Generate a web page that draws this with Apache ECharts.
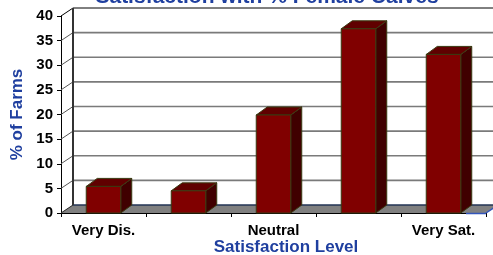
<!DOCTYPE html>
<html>
<head>
<meta charset="utf-8">
<script src="https://cdn.jsdelivr.net/npm/echarts@6/dist/echarts.min.js"></script>
<style>
html,body{margin:0;padding:0;background:#fff;}
#chart{width:493px;height:255px;}
</style>
</head>
<body>
<div id="chart"></div>
<script>
const categories = ['Very Dis.', 'Dis.', 'Neutral', 'Sat.', 'Very Sat.'];
const farmsPct = [5.4, 4.5, 19.9, 37.4, 32.2];
const yTicks = [0, 5, 10, 15, 20, 25, 30, 35, 40];
const titleText = 'Satisfaction with % Female Calves';
const xTitle = 'Satisfaction Level';
const yTitle = '% of Farms';

const BLUE = '#1f3f9f';
const WALL_DX = 12, WALL_DY = -8;
const BAR_DX = 11, BAR_DY = -8;

const chart = echarts.init(document.getElementById('chart'), null, {renderer: 'canvas'});

function renderBackground(params, api) {
  const cs = params.coordSys;
  const gx = cs.x, gw = cs.width;
  const y0 = api.coord([0, 0])[1];
  const children = [];
  children.push({type: 'polygon', shape: {points: [[gx, y0], [gx + WALL_DX, y0 + WALL_DY], [gx + gw + WALL_DX, y0 + WALL_DY], [gx + gw, y0]]},
    style: {fill: '#808080', stroke: null}});
  children.push({type: 'line', shape: {x1: gx + gw, y1: y0, x2: gx + gw + WALL_DX, y2: y0 + WALL_DY}, style: {stroke: '#3355bb', lineWidth: 1.5}});
  children.push({type: 'line', shape: {x1: gx + gw - 20, y1: y0 + 0.5, x2: gx + gw, y2: y0 + 0.5}, style: {stroke: '#3355bb', lineWidth: 1.5}});
  yTicks.forEach(function (v) {
    const y = api.coord([0, v])[1];
    const isTop = v === yTicks[yTicks.length - 1];
    const isZero = v === 0;
    children.push({type: 'line', shape: {x1: gx, y1: y, x2: gx + WALL_DX, y2: y + WALL_DY},
      style: {stroke: isTop ? '#000' : (isZero ? '#222' : '#555'), lineWidth: 1}});
    children.push({type: 'line', shape: {x1: gx + WALL_DX, y1: y + WALL_DY, x2: gx + gw + WALL_DX + 10, y2: y + WALL_DY},
      style: {stroke: isTop ? '#000' : (isZero ? '#223355' : '#7a7a7a'), lineWidth: isTop ? 1 : 1.6}});
  });
  const yTop = api.coord([0, yTicks[yTicks.length - 1]])[1];
  children.push({type: 'line', shape: {x1: gx + WALL_DX, y1: yTop + WALL_DY, x2: gx + WALL_DX, y2: y0 + WALL_DY},
    style: {stroke: '#333', lineWidth: 2}});
  return {type: 'group', children: children};
}

function renderBar(params, api) {
  const idx = api.value(0);
  const top = api.coord([idx, api.value(1)]);
  const base = api.coord([idx, 0]);
  const band = api.size([1, 0])[0];
  const w = band * 0.406;
  const xl = top[0] - w / 2, xr = top[0] + w / 2;
  const yt = top[1], yb = base[1];
  const edge = {stroke: '#3a3a12', lineWidth: 1};
  return {type: 'group', children: [
    {type: 'polygon', shape: {points: [[xr, yt], [xr + BAR_DX, yt + BAR_DY], [xr + BAR_DX, yb + BAR_DY], [xr, yb]]},
      style: Object.assign({fill: '#400000'}, edge)},
    {type: 'polygon', shape: {points: [[xl, yt], [xl + BAR_DX, yt + BAR_DY], [xr + BAR_DX, yt + BAR_DY], [xr, yt]]},
      style: Object.assign({fill: '#600000'}, edge)},
    {type: 'rect', shape: {x: xl, y: yt, width: w, height: yb - yt},
      style: Object.assign({fill: '#800000'}, edge)}
  ]};
}

const option = {
  animation: false,
  grid: {left: 61, right: 7, top: 16, bottom: 42, containLabel: false, outerBoundsMode: 'none'},
  xAxis: {
    type: 'category',
    data: categories,
    boundaryGap: true,
    axisLine: {show: true, lineStyle: {color: '#000', width: 1}},
    axisTick: {show: true, interval: 0, length: 4, lineStyle: {color: '#000'}},
    axisLabel: {interval: 1, margin: 10, color: '#000', fontFamily: 'Liberation Sans, Arial, sans-serif', fontWeight: 'bold', fontSize: 15},
    splitLine: {show: false}
  },
  yAxis: {
    type: 'value',
    min: 0, max: 40, interval: 5,
    name: yTitle,
    nameLocation: 'middle',
    nameRotate: 90,
    nameGap: 35,
    nameTextStyle: {color: BLUE, fontFamily: 'Liberation Sans, Arial, sans-serif', fontWeight: 'bold', fontSize: 17},
    axisLine: {show: true, lineStyle: {color: '#000', width: 1}},
    axisTick: {show: true, length: 4, lineStyle: {color: '#000'}},
    axisLabel: {margin: 8, color: '#000', fontFamily: 'Liberation Sans, Arial, sans-serif', fontWeight: 'bold', fontSize: 15},
    splitLine: {show: false}
  },
  graphic: [
    {type: 'text', x: 267, y: -3, style: {text: titleText, fill: BLUE, font: 'bold 21px "Liberation Sans", Arial, sans-serif', textAlign: 'center', textVerticalAlign: 'middle'}, z: 10},
    {type: 'text', x: 286, y: 247, style: {text: xTitle, fill: BLUE, font: 'bold 17px "Liberation Sans", Arial, sans-serif', textAlign: 'center', textVerticalAlign: 'middle'}, z: 10}
  ],
  series: [
    {type: 'custom', z: 1, silent: true, renderItem: renderBackground, data: [[0, 0]], encode: {x: 0, y: 1}},
    {type: 'custom', z: 3, renderItem: renderBar, data: farmsPct.map(function (v, i) { return [i, v]; }), encode: {x: 0, y: 1}}
  ]
};
chart.setOption(option);
</script>
</body>
</html>
